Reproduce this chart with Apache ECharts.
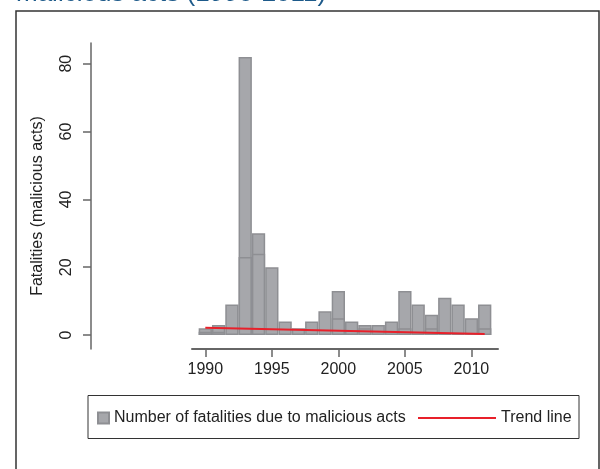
<!DOCTYPE html>
<html>
<head>
<meta charset="utf-8">
<script src="https://cdn.jsdelivr.net/npm/echarts@6/dist/echarts.min.js"></script>
<style>
html, body { margin: 0; padding: 0; background: #fff; }
#chart { width: 600px; height: 469px; }
</style>
</head>
<body>
<div id="chart"></div>
<script>
//数据
var years = [1990, 1991, 1992, 1993, 1994, 1995, 1996, 1997, 1998, 1999, 2000,
             2001, 2002, 2003, 2004, 2005, 2006, 2007, 2008, 2009, 2010, 2011];
var fatalities = [2, 3, 9, 82, 30, 20, 4, 2, 4, 7, 13,
                  4, 3, 3, 4, 13, 9, 6, 11, 9, 5, 9];
//柱子内部的分段线
var innerParts = [1, 1, null, 23, 24, null, null, null, null, null, 5,
                  null, 2, null, null, 2, null, 2, null, null, null, 2];
var trendPoints = [[1990, 2.2], [2011, 0.3]];
var yTicks = [0, 20, 40, 60, 80];
var xTicks = [1990, 1995, 2000, 2005, 2010];

var barName = "Number of fatalities due to malicious acts";
var font = "Liberation Sans, Arial, Helvetica, sans-serif";

var chart = echarts.init(document.getElementById("chart"));

var barData = [];
var innerData = [];
for (var i = 0; i < years.length; i++) {
    barData.push([years[i], fatalities[i]]);
    innerData.push([years[i], innerParts[i]]);
}

var barStyle = {
    color: "#a6a7ab",
    borderColor: "#8e8f93",
    borderWidth: 1.5
};

var option = {
    animation: false,
    textStyle: { fontFamily: font },
    grid: {
        left: 192,
        right: 102,
        top: 43,
        bottom: 120,
        outerBoundsMode: "none"
    },
    graphic: [
        {
            type: "text",
            left: 16,
            top: -19,
            style: {
                text: "malicious acts (1990-2011)",
                fill: "#1d5a8a",
                font: "26px " + font
            }
        },
        {
            type: "rect",
            shape: { x: 16, y: 11, width: 583, height: 480 },
            style: { fill: "none", stroke: "#333", lineWidth: 1.5 }
        },
        {
            type: "rect",
            shape: { x: 88, y: 395.5, width: 491, height: 43 },
            style: { fill: "none", stroke: "#333", lineWidth: 1 }
        },
        {
            type: "text",
            x: 38,
            y: 206,
            rotation: Math.PI / 2,
            style: {
                text: "Fatalities (malicious acts)",
                fill: "#222",
                font: "16px " + font,
                align: "center",
                verticalAlign: "middle"
            }
        }
    ],
    legend: [
        {
            left: 97,
            top: 410,
            padding: 0,
            itemWidth: 11,
            itemHeight: 11,
            data: [{ name: barName, icon: "rect" }],
            textStyle: { fontSize: 16, color: "#222", fontFamily: font }
        },
        {
            left: 418,
            top: 410,
            padding: 0,
            itemWidth: 78,
            itemHeight: 2,
            data: [{ name: "Trend line", icon: "rect" }],
            textStyle: { fontSize: 16, color: "#222", fontFamily: font }
        }
    ],
    xAxis: {
        type: "value",
        min: 1989,
        max: 2012,
        splitLine: { show: false },
        axisLine: { show: true, onZero: false, lineStyle: { color: "#666", width: 2 } },
        axisTick: { show: true, length: 8, customValues: xTicks, lineStyle: { color: "#666", width: 1.5 } },
        axisLabel: {
            customValues: xTicks,
            formatter: function(v) { return String(v); },
            margin: 13,
            fontSize: 16,
            color: "#222",
            fontFamily: font
        }
    },
    yAxis: {
        type: "value",
        min: -4.1,
        max: 86.1,
        offset: 101,
        splitLine: { show: false },
        axisLine: { show: true, lineStyle: { color: "#666", width: 1.5 } },
        axisTick: { show: true, length: 8, customValues: yTicks, lineStyle: { color: "#666", width: 1.5 } },
        axisLabel: {
            customValues: yTicks,
            rotate: 90,
            margin: 16,
            fontSize: 16,
            color: "#222",
            fontFamily: font
        }
    },
    series: [
        {
            name: barName,
            type: "bar",
            barWidth: 13.3,
            barGap: "-100%",
            itemStyle: barStyle,
            data: barData
        },
        {
            name: "inner",
            type: "bar",
            barWidth: 13.3,
            barGap: "-100%",
            itemStyle: barStyle,
            data: innerData
        },
        {
            name: "Trend line",
            type: "line",
            symbol: "none",
            itemStyle: { color: "#e8202a" },
            lineStyle: { color: "#e8202a", width: 2 },
            data: trendPoints
        }
    ]
};

chart.setOption(option);
</script>
</body>
</html>
